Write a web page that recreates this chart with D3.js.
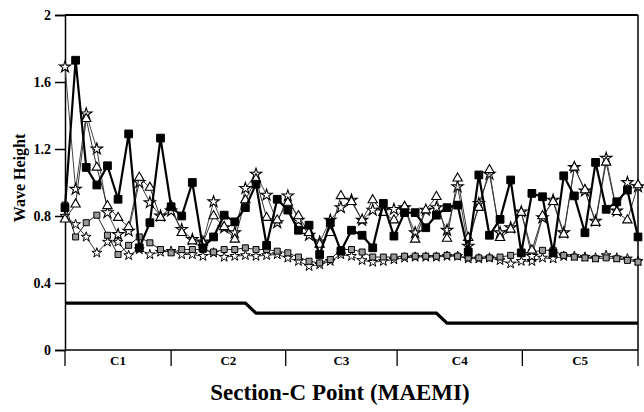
<!DOCTYPE html>
<html><head><meta charset="utf-8">
<script src="https://cdn.jsdelivr.net/npm/d3@7"></script>
<style>
body{margin:0;background:#fff;}
text{font-family:"Liberation Serif","Times New Roman",serif;font-weight:bold;}
</style></head>
<body><svg id="c" width="644" height="412"></svg>
<script>
const yTicks = [0, 0.4, 0.8, 1.2, 1.6, 2];
const sections = ["C1", "C2", "C3", "C4", "C5"];
const sectionBounds = [0, 10, 20.8, 31.3, 43.1, 54];
const filledSquares = [0.85,1.73,1.09,0.985,1.10,0.90,1.29,0.61,0.76,1.265,0.855,0.80,1.00,0.61,0.675,0.805,0.765,0.85,0.99,0.625,0.90,0.835,0.715,0.745,0.57,0.76,0.59,0.715,0.685,0.61,0.875,0.68,0.82,0.82,0.73,0.805,0.85,0.865,0.585,1.045,0.685,0.78,1.015,0.58,0.935,0.915,0.58,1.04,0.92,0.70,1.12,0.84,0.885,0.955,0.675];
const triangles = [0.78,0.87,1.38,1.09,0.86,0.79,0.735,1.03,0.97,0.79,0.86,0.70,0.65,0.64,0.80,0.735,0.66,0.895,1.02,0.79,0.775,0.88,0.80,0.70,0.63,0.70,0.92,0.885,0.775,0.895,0.82,0.775,0.855,0.66,0.835,0.915,0.665,1.025,0.67,0.85,1.075,0.67,0.72,0.82,0.595,0.80,0.885,0.69,1.09,0.955,0.76,1.12,0.825,0.775,0.985];
const stars = [1.69,0.96,1.41,1.20,0.82,0.69,0.71,1.00,0.88,0.80,0.83,0.72,0.66,0.645,0.885,0.73,0.70,0.965,1.05,0.925,0.76,0.92,0.775,0.685,0.645,0.775,0.85,0.895,0.775,0.835,0.835,0.84,0.85,0.70,0.835,0.85,0.715,0.975,0.62,0.875,1.05,0.70,0.73,0.825,0.56,0.79,0.895,0.70,1.09,0.95,0.77,1.145,0.83,1.0,0.975];
const hatched = [0.865,0.675,0.76,0.805,0.685,0.57,0.625,0.675,0.64,0.60,0.58,0.60,0.60,0.60,0.585,0.60,0.60,0.61,0.60,0.60,0.59,0.58,0.555,0.53,0.52,0.54,0.60,0.60,0.585,0.555,0.555,0.555,0.56,0.56,0.56,0.56,0.565,0.56,0.55,0.55,0.55,0.555,0.565,0.58,0.585,0.595,0.595,0.565,0.555,0.55,0.545,0.55,0.545,0.535,0.525];
const lowStars = [0.80,0.75,0.675,0.58,0.645,0.645,0.565,0.60,0.57,0.585,0.59,0.57,0.57,0.56,0.58,0.555,0.56,0.565,0.56,0.565,0.57,0.55,0.53,0.50,0.51,0.53,0.57,0.56,0.535,0.525,0.53,0.54,0.55,0.555,0.555,0.555,0.56,0.56,0.545,0.545,0.55,0.535,0.515,0.53,0.53,0.55,0.545,0.56,0.56,0.555,0.55,0.565,0.55,0.545,0.53];
const breaking = [0.28,0.28,0.28,0.28,0.28,0.28,0.28,0.28,0.28,0.28,0.28,0.28,0.28,0.28,0.28,0.28,0.28,0.28,0.22,0.22,0.22,0.22,0.22,0.22,0.22,0.22,0.22,0.22,0.22,0.22,0.22,0.22,0.22,0.22,0.22,0.22,0.16,0.16,0.16,0.16,0.16,0.16,0.16,0.16,0.16,0.16,0.16,0.16,0.16,0.16,0.16,0.16,0.16,0.16,0.16];

const svg = d3.select("#c");
const L = 65, R = 638, T = 15, B = 350;
const x = d3.scaleLinear().domain([0, filledSquares.length - 1]).range([L, R]);
const y = d3.scaleLinear().domain([0, 2]).range([B, T]);

// Y axis
const ya = svg.append("g").attr("transform", `translate(${L},0)`)
  .call(d3.axisLeft(y).tickValues(yTicks).tickFormat(d => d === 0 ? "0" : d3.format("")(d)).tickSize(10).tickPadding(4));
ya.attr("font-size", null).attr("font-family", null);
ya.select(".domain").attr("stroke", "#000").attr("stroke-width", 1.5);
ya.selectAll(".tick line").attr("stroke", "#000").attr("stroke-width", 1.5);
ya.selectAll("text").attr("fill", "#000").style("font-size", "14px").style("font-family", "Liberation Serif").style("font-weight", "bold");

// frame top and right
svg.append("line").attr("x1", L).attr("x2", R).attr("y1", y(2)).attr("y2", y(2)).attr("stroke", "#000").attr("stroke-width", 2);
svg.append("line").attr("x1", R).attr("x2", R).attr("y1", y(2)).attr("y2", B).attr("stroke", "#000").attr("stroke-width", 1.5);

// X axis
svg.append("line").attr("x1", L).attr("x2", R).attr("y1", B).attr("y2", B).attr("stroke", "#000").attr("stroke-width", 1.5);
svg.selectAll(".sb").data(sectionBounds).enter().append("line")
  .attr("x1", d => x(d)).attr("x2", d => x(d)).attr("y1", B).attr("y2", B + 16)
  .attr("stroke", "#000").attr("stroke-width", 1.3);
svg.selectAll(".sl").data(sections).enter().append("text")
  .attr("x", (d, i) => (x(sectionBounds[i]) + x(sectionBounds[i + 1])) / 2)
  .attr("y", B + 15).attr("text-anchor", "middle").style("font-size", "13px").text(d => d);

// Titles
svg.append("text").attr("x", 340).attr("y", 400).attr("text-anchor", "middle").style("font-size", "23px").text("Section-C Point (MAEMI)");
svg.append("text").attr("transform", `translate(25,178) rotate(-90)`).attr("text-anchor", "middle").style("font-size", "16px").text("Wave Height");

const line = d3.line().x((d, i) => x(i)).y(d => y(d));

// Step line
svg.append("path").datum(breaking).attr("d", line).attr("fill", "none").attr("stroke", "#000").attr("stroke-width", 3.2);

function series(data, lw, color, sym, size, fill, stroke, sw) {
  svg.append("path").datum(data).attr("d", line).attr("fill", "none").attr("stroke", color).attr("stroke-width", lw);
  svg.append("g").selectAll("path").data(data).enter().append("path")
    .attr("transform", (d, i) => `translate(${x(i)},${y(d)})`)
    .attr("d", d3.symbol().type(sym).size(size))
    .attr("fill", fill).attr("stroke", stroke).attr("stroke-width", sw);
}
series(lowStars, 1, "#333", d3.symbolStar, 30, "#fff", "#000", 1);
series(hatched, 1, "#222", d3.symbolSquare, 36, "#999", "#000", 1);
series(stars, 1, "#444", d3.symbolStar, 40, "#fff", "#000", 1.1);
series(triangles, 1, "#333", d3.symbolTriangle, 38, "#fff", "#000", 1.1);
series(filledSquares, 2.2, "#000", d3.symbolSquare, 60, "#000", "#000", 1);
</script></body></html>
